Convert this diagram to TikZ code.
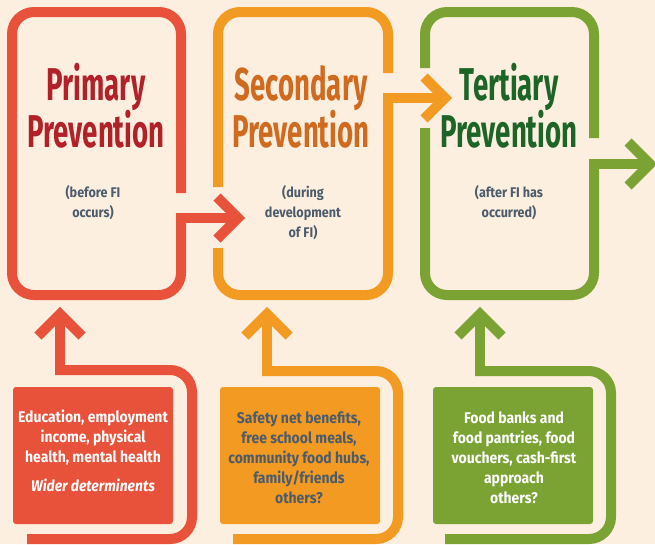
\documentclass[tikz,border=0pt]{standalone}
\usepackage{fontspec}
\newfontfamily\titlef{Fira Sans}[FakeStretch=0.6]
\newfontfamily\textf{Fira Sans}[FakeStretch=0.9]
\definecolor{bgc}{HTML}{FDEFDF}
\definecolor{cred}{HTML}{E9523A}
\definecolor{corange}{HTML}{F29A22}
\definecolor{cgreen}{HTML}{7BA333}
\definecolor{tred}{HTML}{B22028}
\definecolor{torange}{HTML}{CF6A1E}
\definecolor{tgreen}{HTML}{1D6527}
\definecolor{slate}{HTML}{4C5B6B}
\tikzset{
  band/.style={line width=10pt},
  loopband/.style={line width=10pt, rounded corners=22pt},
  chev/.style={line width=10pt, line join=miter, miter limit=4},
  ttl/.style={font=\titlef\bfseries\fontsize{46}{47}\selectfont, anchor=base, inner sep=0pt},
  sub/.style={font=\textf\bfseries\fontsize{14}{20}\selectfont, text=slate, align=center, inner sep=0pt},
  boxtxt/.style={font=\textf\bfseries\fontsize{15.5}{20}\selectfont, align=center, inner sep=0pt},
  sbox/.style={rounded corners=3pt}
}
\begin{document}
\begin{tikzpicture}[x=1pt,y=-1pt]
\fill[bgc] (0,0) rectangle (655,544);
\useasboundingbox (0,0) rectangle (655,544);

% ---------- Primary box ----------
\draw[loopband, cred] (181,193) -- (181,12) -- (12,12) -- (12,295) -- (181,295) -- (181,218);
\coordinate (a1s) at (176,218);
\coordinate (a1t) at (238,218);
\draw[band, cred] (a1s) -- (a1t);
\draw[chev, cred] (217,197) -- (a1t) -- (217,239);

% ---------- Secondary box ----------
\draw[loopband, corange] (388,73) -- (388,12) -- (218,12) -- (218,187);
\draw[loopband, corange] (218,248) -- (218,295) -- (388,295) -- (388,98);
\coordinate (a2s) at (383,98);
\coordinate (a2t) at (445,98);
\draw[band, corange] (a2s) -- (a2t);
\draw[chev, corange] (424,77) -- (a2t) -- (424,119);

% ---------- Tertiary box ----------
\draw[loopband, cgreen] (594,138) -- (594,12) -- (425,12) -- (425,68);
\draw[loopband, cgreen] (425,128) -- (425,295) -- (594,295) -- (594,164);
\coordinate (a3s) at (589,164);
\coordinate (a3t) at (650,164);
\draw[band, cgreen] (a3s) -- (a3t);
\draw[chev, cgreen] (628,142) -- (a3t) -- (628,186);

% ---------- Titles ----------
\node[ttl, text=tred] (t1a) at (96,100) {Primary};
\node[ttl, text=tred] (t1b) at (96,147) {Prevention};
\node[ttl, text=torange] (t2a) at (301,100) {Secondary};
\node[ttl, text=torange] (t2b) at (301,147) {Prevention};
\node[ttl, text=tgreen] (t3a) at (509,100) {Tertiary};
\node[ttl, text=tgreen] (t3b) at (509,147) {Prevention};

\node[sub] (s1) at (93,203) {(before FI\\occurs)};
\node[sub] (s2) at (303,213) {(during\\development\\of FI)};
\node[sub] (s3) at (509,203) {(after FI has\\occurred)};

% ---------- Bottom loops ----------
\draw[loopband, cred] (27,539) -- (192,539) -- (192,370) -- (55,370);
\coordinate (u1) at (60,314);
\draw[band, cred] (60,375) -- (u1);
\draw[chev, cred] (38,336) -- (u1) -- (82,336);

\draw[loopband, corange] (233,539) -- (398,539) -- (398,371) -- (262,371);
\coordinate (u2) at (267,314);
\draw[band, corange] (267,376) -- (u2);
\draw[chev, corange] (245,336) -- (u2) -- (289,336);

\draw[loopband, cgreen] (445,539) -- (611,539) -- (611,371) -- (475,371);
\coordinate (u3) at (480,314);
\draw[band, cgreen] (480,376) -- (u3);
\draw[chev, cgreen] (458,336) -- (u3) -- (502,336);

% ---------- Bottom boxes ----------
\fill[sbox, cred] (13,387) rectangle (173,524);
\fill[sbox, corange] (220,387) rectangle (380,524);
\fill[sbox, cgreen] (433,387) rectangle (593,524);

\node[boxtxt, text=white] (b1) at (93,438) {Education, employment\\income, physical\\health, mental health};
\node[boxtxt, text=white, font=\textf\bfseries\itshape\fontsize{15.5}{20}\selectfont] (b1w) at (93,485) {Wider determinents};
\node[boxtxt, text=slate] (b2) at (299,458) {Safety net benefits,\\free school meals,\\community food hubs,\\family/friends\\others?};
\node[boxtxt, text=white] (b3) at (514,458) {Food banks and\\food pantries, food\\vouchers, cash-first\\approach\\others?};
\end{tikzpicture}
\end{document}
